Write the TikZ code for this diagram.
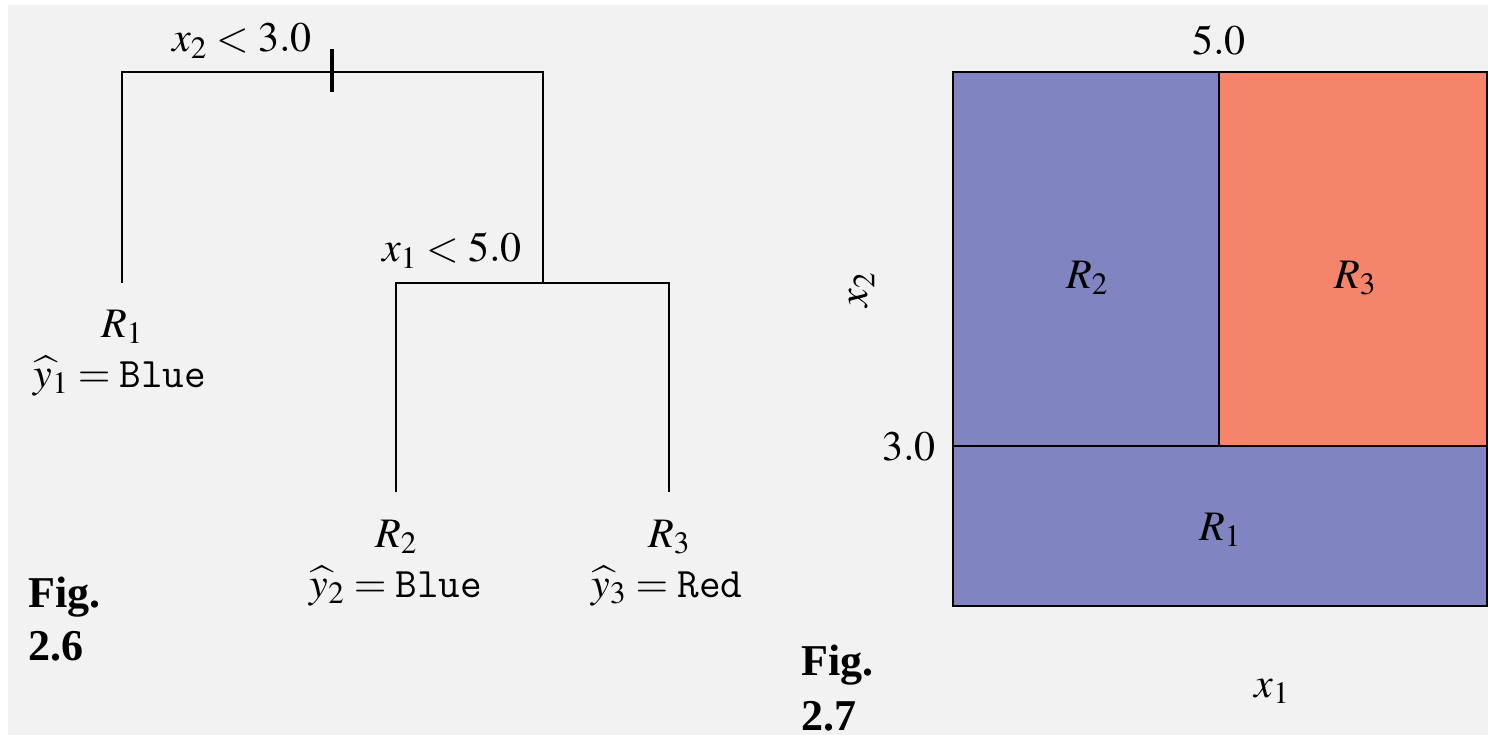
\documentclass[tikz,border=0pt]{standalone}
\usepackage{mathptmx}
\usepackage[no-math]{fontspec}
\setmainfont{Liberation Serif}
\definecolor{bg}{HTML}{F2F2F2}
\definecolor{regblue}{HTML}{8085C1}
\definecolor{regred}{HTML}{F4846A}
\tikzset{
  txt/.style={inner sep=0pt, font=\fontsize{42}{50}\selectfont},
  figlab/.style={inner sep=0pt, anchor=base west, font=\fontsize{44}{52}\selectfont\bfseries},
  edge/.style={draw=black, line width=1.6pt},
  region/.style={draw=black, line width=1.6pt}
}
\begin{document}
\begin{tikzpicture}[x=1pt,y=-1pt]
\useasboundingbox (0,0) rectangle (1488,735);
\fill[white] (0,0) rectangle (1488,735);
\fill[bg] (8,5) rectangle (1488,735);

% ---------- tree (Fig. 2.6)
\coordinate (root) at (332,72);
\coordinate (rootL) at (122,72);
\coordinate (rootR) at (543,72);
\coordinate (leaf1) at (122,283);
\coordinate (split2) at (543,283);
\coordinate (s2L) at (396,283);
\coordinate (s2R) at (669,283);
\coordinate (leaf2) at (396,492);
\coordinate (leaf3) at (669,492);

\draw[edge] (leaf1) -- (rootL) -- (rootR) -- (split2);
\draw[edge] (leaf2) -- (s2L) -- (s2R) -- (leaf3);
\draw[line width=3.2pt] ([yshift=-20pt]root) -- ([yshift=23pt]root);

\node[txt, anchor=base] (c1) at (242,52) {$x_2 < 3.0$};
\node[txt, anchor=base] (c2) at (452,262) {$x_1 < 5.0$};

\node[txt, anchor=base] (r1) at (122,337) {$R_1$};
\node[txt, anchor=base] (y1) at (120,387) {$\widehat{y}_1 = \texttt{Blue}$};
\node[txt, anchor=base] (r2) at (396,547) {$R_2$};
\node[txt, anchor=base] (y2) at (396,597) {$\widehat{y}_2 = \texttt{Blue}$};
\node[txt, anchor=base] (r3) at (669,547) {$R_3$};
\node[txt, anchor=base] (y3) at (667,597) {$\widehat{y}_3 = \texttt{Red}$};

\node[figlab] (f6a) at (28,607) {Fig.};
\node[figlab] (f6b) at (28,660) {2.6};

% ---------- partition (Fig. 2.7)
\fill[regblue] (953,72) rectangle (1487,606);
\fill[regred] (1219,72) rectangle (1487,446);
\draw[region] (953,72) rectangle (1487,606);
\draw[region] (953,446) -- (1487,446);
\draw[region] (1219,72) -- (1219,446);

\node[txt, anchor=base] (p2) at (1087,288) {$R_2$};
\node[txt, anchor=base] (p3) at (1355,288) {$R_3$};
\node[txt, anchor=base] (p1) at (1220,540) {$R_1$};
\node[txt, anchor=base] (t5) at (1219,55) {$5.0$};
\node[txt, anchor=base east] (t3) at (936,460) {$3.0$};
\node[txt, rotate=90] (ax2) at (862,290) {$x_2$};
\node[txt, anchor=base] (ax1) at (1272,697) {$x_1$};

\node[figlab] (f7a) at (801,675) {Fig.};
\node[figlab] (f7b) at (801,730) {2.7};
\end{tikzpicture}
\end{document}
